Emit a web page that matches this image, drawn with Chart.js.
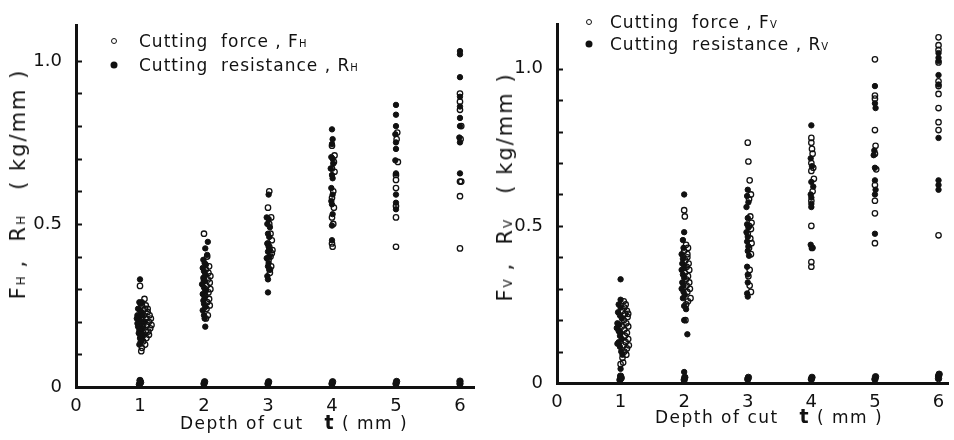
<!DOCTYPE html>
<html>
<head>
<meta charset="utf-8">
<script src="https://cdn.jsdelivr.net/npm/chart.js@4.4.1/dist/chart.umd.min.js"></script>
<style>
  body { margin:0; background:#fff; }
  #wrap { position:relative; width:954px; height:440px; overflow:hidden; background:#fff; font-family:"DejaVu Sans", sans-serif; color:#111; }
  canvas { position:absolute; top:0; }
  .txt { position:absolute; white-space:nowrap; color:#111; }
  .leg { font-size:17px; letter-spacing:1px; transform:translateY(-50%); }
  .sb { font-size:10px; letter-spacing:0; vertical-align:0px; }
  .ytitle { font-size:21px; letter-spacing:2px; transform:translate(-50%,-50%) rotate(-90deg); }
  .ytitle .sb { font-size:12px; }
  .xtitle { font-size:17px; letter-spacing:1.5px; transform:translate(-50%,-50%); }
  .mk { position:absolute; width:6px; height:6px; border-radius:50%; transform:translate(-50%,-50%); box-sizing:border-box; }
  .open { border:1.4px solid #111; background:#fff; }
  .fill { background:#111; width:7px; height:7px; }
</style>
</head>
<body>
<div id="wrap">
  <canvas id="cH" width="480" height="440" style="left:0"></canvas>
  <canvas id="cV" width="474" height="440" style="left:480px"></canvas>

  <div class="mk open" style="left:114px;top:41px"></div>
  <div class="mk fill" style="left:114px;top:65px"></div>
  <div class="txt leg" style="left:139px;top:41px">Cutting&nbsp; force , F<span class="sb">H</span></div>
  <div class="txt leg" style="left:139px;top:65px">Cutting&nbsp; resistance , R<span class="sb">H</span></div>

  <div class="mk open" style="left:589px;top:22px"></div>
  <div class="mk fill" style="left:589px;top:44px"></div>
  <div class="txt leg" style="left:610px;top:22px">Cutting&nbsp; force , F<span class="sb">V</span></div>
  <div class="txt leg" style="left:610px;top:44px">Cutting&nbsp; resistance , R<span class="sb">V</span></div>

  <div class="txt ytitle" style="left:18px;top:184px">F<span class="sb">H</span> ,&nbsp; R<span class="sb">H</span>&nbsp;&nbsp; ( kg/mm )</div>
  <div class="txt ytitle" style="left:505px;top:187px">F<span class="sb">V</span> ,&nbsp; R<span class="sb">V</span>&nbsp;&nbsp; ( kg/mm )</div>

  <div class="txt xtitle" style="left:294px;top:422px">Depth of cut&nbsp;&nbsp; <b style="font-size:19px">t</b> ( mm )</div>
  <div class="txt xtitle" style="left:769px;top:416px">Depth of cut&nbsp;&nbsp; <b style="font-size:19px">t</b> ( mm )</div>
</div>

<script>
// ---- data: [depth of cut t (mm), value (kg/mm)] ----
const depthTicks = [0, 1, 2, 3, 4, 5, 6];
const yLabels = { "0": "0", "0.5": "0.5", "1": "1.0" };

const hForce = [
  [1.00,0.31],[1.07,0.27],[1.03,0.25],[1.08,0.24],[1.12,0.23],[1.06,0.22],[1.15,0.22],[1.10,0.21],[1.02,0.21],[1.14,0.20],
  [1.07,0.20],[1.18,0.19],[1.11,0.19],[1.04,0.18],[1.16,0.18],[1.09,0.17],[1.13,0.17],[1.06,0.16],[1.01,0.16],[1.10,0.15],
  [1.05,0.14],[1.08,0.13],[1.03,0.12],[1.02,0.11],[1.12,0.24],[1.17,0.21],[1.09,0.25],[1.14,0.16],[0.98,0.19],[1.05,0.19],
  [2.00,0.47],[2.05,0.40],[2.08,0.37],[2.03,0.36],[2.10,0.34],[2.06,0.33],[2.09,0.32],[2.04,0.31],[2.10,0.30],[2.07,0.29],
  [2.02,0.28],[2.08,0.27],[2.05,0.26],[2.09,0.25],[2.04,0.24],[2.06,0.22],[2.03,0.21],[2.07,0.35],[2.00,0.33],[2.02,0.30],
  [3.02,0.60],[3.00,0.55],[3.05,0.52],[3.02,0.50],[3.04,0.47],[3.06,0.45],[3.02,0.43],[3.07,0.42],[3.04,0.40],[3.01,0.39],
  [3.05,0.37],[3.03,0.36],[3.06,0.41],[3.00,0.44],[3.03,0.35],
  [4.00,0.74],[4.04,0.71],[4.03,0.69],[4.00,0.67],[4.02,0.60],[4.00,0.58],[4.03,0.55],[4.00,0.52],[4.02,0.50],[4.00,0.44],
  [4.01,0.43],[4.04,0.66],
  [5.02,0.78],[5.03,0.69],[5.00,0.65],[5.00,0.635],[5.00,0.61],[5.00,0.555],[5.00,0.52],[5.00,0.43],[5.01,0.76],
  [6.00,0.90],[6.00,0.875],[6.00,0.85],[6.02,0.80],[6.01,0.76],[6.00,0.63],[6.02,0.63],[6.00,0.585],[6.00,0.425]
];
const hResist = [
  [1.00,0.33],[0.99,0.26],[1.01,0.255],[1.03,0.26],[0.97,0.24],[1.00,0.235],[0.96,0.22],[0.99,0.215],[1.02,0.23],[0.95,0.21],
  [0.98,0.205],[1.01,0.20],[0.96,0.195],[1.00,0.19],[0.97,0.185],[1.03,0.18],[0.99,0.175],[1.02,0.17],[0.98,0.165],[1.04,0.16],
  [1.00,0.15],[1.03,0.145],[1.01,0.14],[0.99,0.13],[1.06,0.20],[1.04,0.22],
  [2.06,0.445],[2.02,0.425],[2.05,0.405],[1.99,0.39],[2.01,0.38],[2.03,0.375],[1.98,0.365],[2.00,0.355],[2.02,0.345],[1.99,0.335],
  [2.01,0.325],[1.97,0.315],[2.00,0.305],[2.03,0.295],[1.98,0.285],[2.01,0.275],[1.99,0.265],[2.00,0.255],[2.02,0.245],[1.98,0.235],
  [2.00,0.22],[2.01,0.21],[2.02,0.185],
  [3.01,0.59],[2.98,0.52],[3.01,0.515],[2.99,0.50],[3.03,0.49],[3.00,0.47],[3.02,0.46],[2.99,0.44],[3.01,0.43],[3.03,0.42],
  [3.00,0.415],[3.02,0.40],[2.98,0.395],[3.01,0.38],[3.00,0.37],[3.02,0.36],[2.99,0.34],[3.00,0.33],[3.00,0.29],
  [4.00,0.79],[4.01,0.76],[4.00,0.745],[3.99,0.705],[4.01,0.70],[4.02,0.685],[3.98,0.67],[4.00,0.65],[4.01,0.64],[3.99,0.61],
  [4.01,0.59],[3.99,0.57],[4.00,0.56],[4.01,0.53],[4.00,0.495],[4.00,0.45],
  [5.00,0.865],[5.00,0.835],[5.00,0.80],[4.99,0.775],[5.00,0.75],[5.00,0.73],[4.99,0.695],[5.00,0.655],[5.00,0.59],[5.00,0.565],[5.00,0.545],
  [6.00,1.03],[6.00,1.02],[6.00,0.95],[6.00,0.89],[6.00,0.86],[6.00,0.825],[6.00,0.80],[5.99,0.765],[6.00,0.75],[6.00,0.655]
];
const hZero = [
  [0.99,0.008],[1.01,0.014],[1.00,0.02],[2.00,0.01],[2.01,0.016],[3.00,0.01],[3.01,0.016],
  [4.00,0.01],[4.01,0.016],[5.00,0.01],[5.01,0.017],[6.00,0.01],[6.00,0.018]
];

const vForce = [
  [1.05,0.26],[1.08,0.25],[1.06,0.24],[1.10,0.23],[1.07,0.22],[1.11,0.21],[1.05,0.20],[1.09,0.19],[1.12,0.18],[1.06,0.17],
  [1.10,0.16],[1.07,0.15],[1.12,0.14],[1.08,0.13],[1.05,0.12],[1.10,0.11],[1.06,0.10],[1.09,0.09],[1.03,0.08],[1.04,0.065],
  [1.00,0.06],[1.12,0.22],[1.03,0.23],[1.13,0.12],[1.02,0.18],
  [2.00,0.55],[2.01,0.53],[2.03,0.44],[2.06,0.43],[2.00,0.42],[2.05,0.40],[2.02,0.39],[2.07,0.38],[2.04,0.37],[2.08,0.36],
  [2.01,0.35],[2.06,0.34],[2.03,0.33],[2.08,0.32],[2.04,0.31],[2.09,0.30],[2.05,0.29],[2.10,0.27],[2.06,0.26],[2.03,0.25],
  [2.02,0.20],[2.05,0.41],
  [3.00,0.765],[3.01,0.705],[3.03,0.645],[3.05,0.60],[3.02,0.585],[3.04,0.53],[3.06,0.51],[3.02,0.50],[3.05,0.49],[3.00,0.475],
  [3.04,0.46],[3.06,0.445],[3.02,0.43],[3.05,0.41],[3.03,0.36],[3.01,0.34],[3.03,0.31],[3.05,0.29],
  [4.00,0.78],[4.00,0.765],[4.01,0.745],[4.02,0.73],[4.00,0.70],[4.03,0.685],[4.00,0.675],[4.04,0.65],[4.02,0.61],[4.00,0.58],
  [4.00,0.50],[4.00,0.385],[4.00,0.37],[4.01,0.43],
  [5.00,1.03],[5.00,0.915],[5.00,0.905],[5.00,0.805],[5.01,0.755],[5.00,0.73],[5.02,0.68],[5.00,0.63],[5.00,0.58],[5.00,0.54],[5.00,0.445],
  [6.00,1.10],[6.00,1.075],[6.00,1.06],[6.00,1.02],[6.00,0.96],[6.00,0.945],[6.00,0.92],[6.00,0.875],[6.00,0.83],[6.00,0.805],[6.00,0.47]
];
const vResist = [
  [1.00,0.33],[1.00,0.265],[0.97,0.25],[1.00,0.24],[0.96,0.225],[0.99,0.215],[1.02,0.205],[0.95,0.19],[0.98,0.185],[0.94,0.175],
  [0.97,0.165],[1.00,0.16],[0.99,0.15],[1.02,0.14],[0.97,0.13],[0.95,0.125],[0.99,0.115],[1.01,0.10],[1.03,0.09],[1.00,0.045],
  [2.00,0.60],[2.00,0.48],[1.98,0.455],[1.99,0.43],[1.96,0.41],[1.98,0.395],[1.97,0.38],[2.00,0.37],[1.96,0.36],[1.98,0.345],
  [2.00,0.335],[1.97,0.32],[1.99,0.31],[1.96,0.30],[1.99,0.29],[2.01,0.28],[1.98,0.27],[2.00,0.245],[2.03,0.235],[2.00,0.20],
  [2.05,0.155],[2.00,0.035],
  [3.00,0.615],[2.99,0.595],[3.01,0.575],[2.98,0.56],[3.00,0.525],[2.99,0.505],[3.01,0.495],[2.98,0.48],[3.00,0.465],[2.99,0.45],
  [3.01,0.435],[3.00,0.42],[3.02,0.405],[2.99,0.37],[3.00,0.345],[3.00,0.32],[2.99,0.285],[3.00,0.275],
  [4.00,0.82],[3.99,0.715],[4.01,0.69],[4.00,0.64],[4.03,0.625],[3.99,0.60],[4.00,0.59],[4.00,0.57],[4.00,0.56],[3.99,0.44],[4.02,0.43],
  [5.00,0.945],[5.00,0.89],[5.01,0.875],[4.99,0.74],[4.98,0.725],[5.00,0.685],[5.00,0.645],[5.01,0.615],[5.00,0.60],[5.00,0.475],
  [6.00,1.05],[6.00,1.035],[6.00,1.025],[6.00,0.98],[6.00,0.95],[6.00,0.78],[6.00,0.645],[6.00,0.63],[6.00,0.615]
];
const vZero = [
  [0.99,0.01],[1.01,0.016],[1.00,0.022],[2.00,0.01],[2.01,0.018],[3.00,0.012],[3.01,0.018],
  [4.00,0.012],[4.01,0.018],[5.00,0.012],[5.01,0.02],[6.00,0.014],[6.00,0.022],[6.01,0.028]
];

const INK = '#111';
const toXY = arr => arr.map(p => ({ x: p[0], y: p[1] }));

const inwardTicks = {
  id: 'inwardTicks',
  afterDraw(chart) {
    const y = chart.scales.y, ctx = chart.ctx, left = chart.chartArea.left;
    ctx.save();
    ctx.strokeStyle = INK; ctx.lineWidth = 2;
    y.ticks.forEach(t => {
      const v = Math.round(t.value * 10) / 10;
      if (v > 0 && v <= 1.0 && Math.abs(t.value - v) < 1e-6) {
        const py = Math.round(y.getPixelForValue(t.value)) + 0.5;
        ctx.beginPath(); ctx.moveTo(left, py); ctx.lineTo(left + 6, py); ctx.stroke();
      }
    });
    ctx.restore();
  }
};

function makeChart(id, force, resist, zero, cfg) {
  new Chart(document.getElementById(id), {
    type: 'scatter',
    data: {
      datasets: [
        { label: 'force', data: toXY(force), pointStyle: 'circle', pointRadius: 2.7, pointBorderWidth: 1.3,
          borderColor: INK, backgroundColor: 'rgba(255,255,255,0)', clip: false },
        { label: 'resistance', data: toXY(resist), pointStyle: 'circle', pointRadius: 2.7, pointBorderWidth: 1,
          borderColor: INK, backgroundColor: INK, clip: false },
        { label: 'near zero', data: toXY(zero), pointStyle: 'circle', pointRadius: 3.2, pointBorderWidth: 1,
          borderColor: INK, backgroundColor: INK, clip: false }
      ]
    },
    options: {
      responsive: false, animation: false, devicePixelRatio: 1,
      layout: { padding: { top: cfg.padTop, left: 0, right: 0, bottom: 0 } },
      plugins: { legend: { display: false }, tooltip: { enabled: false } },
      scales: {
        x: {
          type: 'linear', min: 0, max: cfg.xmax,
          grid: { display: false, drawTicks: false },
          border: { display: true, color: INK, width: 3 },
          afterBuildTicks: s => { s.ticks = depthTicks.map(v => ({ value: v })); },
          ticks: { autoSkip: false, maxRotation: 0, padding: 9, color: INK,
                   font: { family: 'DejaVu Sans', size: 18 },
                   callback: v => String(v) },
          afterFit: s => { s.height = cfg.xAxisH; }
        },
        y: {
          type: 'linear', min: 0, max: cfg.ymax,
          grid: { display: false, drawTicks: false },
          border: { display: true, color: INK, width: 3 },
          ticks: { stepSize: 0.1, autoSkip: false, padding: 14, color: INK,
                   font: { family: 'DejaVu Sans', size: 18 },
                   callback: v => { const k = String(Math.round(v * 10) / 10); return (Math.abs(v - Number(k)) < 1e-6 && yLabels[k]) ? yLabels[k] : ''; } },
          afterFit: s => { s.width = cfg.yAxisW; }
        }
      }
    },
    plugins: [inwardTicks]
  });
}

makeChart('cH', hForce, hResist, hZero, { ymax: 1.11, xmax: 6.23, padTop: 25, xAxisH: 53, yAxisW: 76 });
makeChart('cV', vForce, vResist, vZero, { ymax: 1.14, xmax: 6.16, padTop: 11, xAxisH: 57, yAxisW: 77 });
</script>
</body>
</html>
